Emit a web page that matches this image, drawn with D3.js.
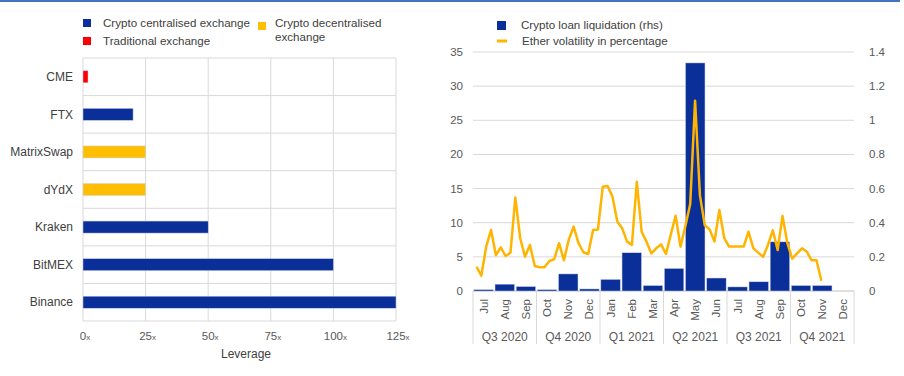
<!DOCTYPE html>
<html>
<head>
<meta charset="utf-8">
<script src="https://cdn.jsdelivr.net/npm/d3@7"></script>
<style>
  body { margin: 0; background: #fff; }
  svg { display: block; font-family: "Liberation Sans", Arial, sans-serif; }
</style>
</head>
<body>
<svg id="chart" width="904" height="376"></svg>
<script>
// left panel: maximum leverage by exchange
const exchanges = ['CME', 'FTX', 'MatrixSwap', 'dYdX', 'Kraken', 'BitMEX', 'Binance'];
const leverage = [2, 20, 25, 25, 50, 100, 125];
const exchangeType = ['trad', 'cex', 'dex', 'dex', 'cex', 'cex', 'cex'];
const leverageTicks = [0, 25, 50, 75, 100, 125];

// right panel: monthly liquidations (bars) and weekly ether volatility (line)
const months = ['Jul', 'Aug', 'Sep', 'Oct', 'Nov', 'Dec', 'Jan', 'Feb', 'Mar',
  'Apr', 'May', 'Jun', 'Jul', 'Aug', 'Sep', 'Oct', 'Nov', 'Dec'];
const quarters = ['Q3 2020', 'Q4 2020', 'Q1 2021', 'Q2 2021', 'Q3 2021', 'Q4 2021'];
const liquidation = [0.2, 1.0, 0.65, 0.2, 2.5, 0.3, 1.7, 5.6, 0.8,
  3.3, 33.4, 1.9, 0.6, 1.35, 7.2, 0.8, 0.8, 0];
const volatility = [
  0.142, 0.09, 0.26, 0.357, 0.21, 0.256, 0.205, 0.224, 0.547, 0.309, 0.201, 0.27, 0.146,
  0.139, 0.139, 0.176, 0.186, 0.28, 0.18, 0.30, 0.377, 0.28, 0.227, 0.217, 0.357, 0.36,
  0.611, 0.615, 0.552, 0.406, 0.367, 0.289, 0.27, 0.64, 0.347, 0.289, 0.22, 0.25, 0.273,
  0.217, 0.33, 0.441, 0.26, 0.38, 0.51, 1.115, 0.56, 0.385, 0.36, 0.29, 0.475, 0.31,
  0.26, 0.26, 0.26, 0.26, 0.347, 0.25, 0.225, 0.2, 0.27, 0.355, 0.24, 0.44, 0.28,
  0.19, 0.22, 0.25, 0.23, 0.18, 0.18, 0.06];
const volDates = d3.utcMonday.range(new Date(Date.UTC(2020, 6, 6)), new Date(Date.UTC(2021, 10, 16)));
const leftTicks = [0, 5, 10, 15, 20, 25, 30, 35];
const rightTicks = [0, 0.2, 0.4, 0.6, 0.8, 1, 1.2, 1.4];

const colors = { cex: '#0a2f98', dex: '#ffbf00', trad: '#ff0000', line: '#ffb400' };
const grid = '#d9d9d9';
const textCol = '#595959';

const svg = d3.select('#chart');

// blue rule at the top
svg.append('line')
  .attr('x1', 0).attr('x2', 900).attr('y1', 1).attr('y2', 1)
  .attr('stroke', '#4472c4').attr('stroke-width', 2);

// ---------- left chart ----------
const L = { left: 83, right: 396, top: 58, bottom: 321 };

const xLev = d3.scaleLinear().domain([0, 125]).range([L.left, L.right]);
const yEx = d3.scaleBand().domain(exchanges).range([L.top, L.bottom]).paddingInner(0.68).paddingOuter(0.34);
const yBand = d3.scaleBand().domain(exchanges).range([L.top, L.bottom]);

const left = svg.append('g');

// grid
left.append('g').selectAll('line')
  .data(leverageTicks)
  .join('line')
  .attr('x1', d => xLev(d)).attr('x2', d => xLev(d))
  .attr('y1', L.top).attr('y2', L.bottom)
  .attr('stroke', grid);

left.append('g').selectAll('line')
  .data(exchanges.concat(['end']))
  .join('line')
  .attr('x1', L.left).attr('x2', L.right)
  .attr('y1', (d, i) => i < exchanges.length ? yBand(d) : L.bottom)
  .attr('y2', (d, i) => i < exchanges.length ? yBand(d) : L.bottom)
  .attr('stroke', grid);

left.append('g').selectAll('rect')
  .data(exchanges)
  .join('rect')
  .attr('x', xLev(0))
  .attr('y', d => yEx(d))
  .attr('width', (d, i) => xLev(leverage[i]) - xLev(0))
  .attr('height', yEx.bandwidth())
  .attr('fill', (d, i) => colors[exchangeType[i]])
  .attr('stroke', '#c9d3ee').attr('stroke-width', 0.5);

// category labels
left.append('g').selectAll('text')
  .data(exchanges)
  .join('text')
  .attr('x', 73)
  .attr('y', d => yBand(d) + yBand.bandwidth() / 2)
  .attr('dy', '0.35em')
  .attr('text-anchor', 'end')
  .attr('font-size', 12)
  .attr('fill', '#404040')
  .text(d => d);

// x tick labels with small "x"
const xt = left.append('g').selectAll('text')
  .data(leverageTicks)
  .join('text')
  .attr('x', d => xLev(d) + 2)
  .attr('y', 340)
  .attr('text-anchor', 'middle')
  .attr('font-size', 11.5)
  .attr('fill', textCol);
xt.append('tspan').text(d => d);
xt.append('tspan').attr('font-size', 8).text('x');

left.append('text')
  .attr('x', 246).attr('y', 358)
  .attr('text-anchor', 'middle')
  .attr('font-size', 12)
  .attr('fill', '#404040')
  .text('Leverage');

// legend
const legL = [
  { x: 83, y: 19, c: colors.cex, dx: 20, t: ['Crypto centralised exchange'] },
  { x: 83, y: 37, c: colors.trad, dx: 20, t: ['Traditional exchange'] },
  { x: 258, y: 22, c: colors.dex, dx: 17, t: ['Crypto decentralised', 'exchange'] }
];
const lg = left.append('g').selectAll('g').data(legL).join('g');
lg.append('rect')
  .attr('x', d => d.x).attr('y', d => d.y)
  .attr('width', 8).attr('height', 8)
  .attr('fill', d => d.c);
lg.each(function (d) {
  const t = d3.select(this).append('text')
    .attr('y', d.y + 8)
    .attr('font-size', 11.6).attr('fill', '#404040');
  d.t.forEach((s, i) => {
    t.append('tspan').attr('x', d.x + d.dx).attr('dy', i ? 14 : -3 * (d.t.length - 1)).text(s);
  });
});

// ---------- right chart ----------
const R = { left: 473, right: 854, top: 52, bottom: 291 };

const xMonth = d3.scaleBand().domain(d3.range(months.length)).range([R.left, R.right]).paddingInner(0.08).paddingOuter(0.04);
const xTime = d3.scaleUtc()
  .domain([new Date(Date.UTC(2020, 6, 1)), new Date(Date.UTC(2022, 0, 1))])
  .range([R.left, R.right]);
const yLeft = d3.scaleLinear().domain([0, 35]).range([R.bottom, R.top]);
const yRight = d3.scaleLinear().domain([0, 1.4]).range([R.bottom, R.top]);

const right = svg.append('g');

right.append('g').selectAll('line')
  .data(leftTicks)
  .join('line')
  .attr('x1', R.left).attr('x2', R.right)
  .attr('y1', d => yLeft(d)).attr('y2', d => yLeft(d))
  .attr('stroke', d => d === 0 ? '#bfbfbf' : grid);

right.append('g').selectAll('text')
  .data(leftTicks)
  .join('text')
  .attr('x', 463)
  .attr('y', d => yLeft(d))
  .attr('dy', '0.35em')
  .attr('text-anchor', 'end')
  .attr('font-size', 11.5)
  .attr('fill', textCol)
  .text(d => d);

right.append('g').selectAll('text')
  .data(rightTicks)
  .join('text')
  .attr('x', 869)
  .attr('y', d => yRight(d))
  .attr('dy', '0.35em')
  .attr('font-size', 11.5)
  .attr('fill', textCol)
  .text(d => d);

// liquidation bars
right.append('g').selectAll('rect')
  .data(liquidation)
  .join('rect')
  .attr('x', (d, i) => xMonth(i))
  .attr('y', d => yLeft(d))
  .attr('width', xMonth.bandwidth())
  .attr('height', d => yLeft(0) - yLeft(d))
  .attr('fill', colors.cex)
  .attr('stroke', '#c9d3ee').attr('stroke-width', 0.5);

// ether volatility line
right.append('path')
  .datum(volatility)
  .attr('fill', 'none')
  .attr('stroke', colors.line)
  .attr('stroke-width', 2.5)
  .attr('stroke-linejoin', 'round')
  .attr('d', d3.line()
    .x((d, i) => xTime(volDates[i]))
    .y(d => yRight(d)));

// month labels
const step = (R.right - R.left) / months.length;
right.append('g').selectAll('text')
  .data(months)
  .join('text')
  .attr('transform', (d, i) => `translate(${R.left + step * (i + 0.5) + 4},299) rotate(-90)`)
  .attr('text-anchor', 'end')
  .attr('font-size', 11.5)
  .attr('fill', textCol)
  .text(d => d);

// quarter separators and labels
const qStep = (R.right - R.left) / quarters.length;
right.append('g').selectAll('line')
  .data(d3.range(quarters.length + 1))
  .join('line')
  .attr('x1', d => R.left + d * qStep).attr('x2', d => R.left + d * qStep)
  .attr('y1', R.bottom).attr('y2', 344)
  .attr('stroke', grid);

right.append('g').selectAll('text')
  .data(quarters)
  .join('text')
  .attr('x', (d, i) => R.left + qStep * (i + 0.5))
  .attr('y', 341)
  .attr('text-anchor', 'middle')
  .attr('font-size', 12)
  .attr('fill', textCol)
  .text(d => d);

// legend
right.append('rect')
  .attr('x', 497).attr('y', 21).attr('width', 9).attr('height', 9)
  .attr('fill', colors.cex);
right.append('text')
  .attr('x', 521).attr('y', 29)
  .attr('font-size', 11.6).attr('fill', '#404040')
  .text('Crypto loan liquidation (rhs)');
right.append('line')
  .attr('x1', 497).attr('x2', 507).attr('y1', 41).attr('y2', 41)
  .attr('stroke', colors.line).attr('stroke-width', 3);
right.append('text')
  .attr('x', 522).attr('y', 45)
  .attr('font-size', 11.6).attr('fill', '#404040')
  .text('Ether volatility in percentage');
</script>
</body>
</html>
